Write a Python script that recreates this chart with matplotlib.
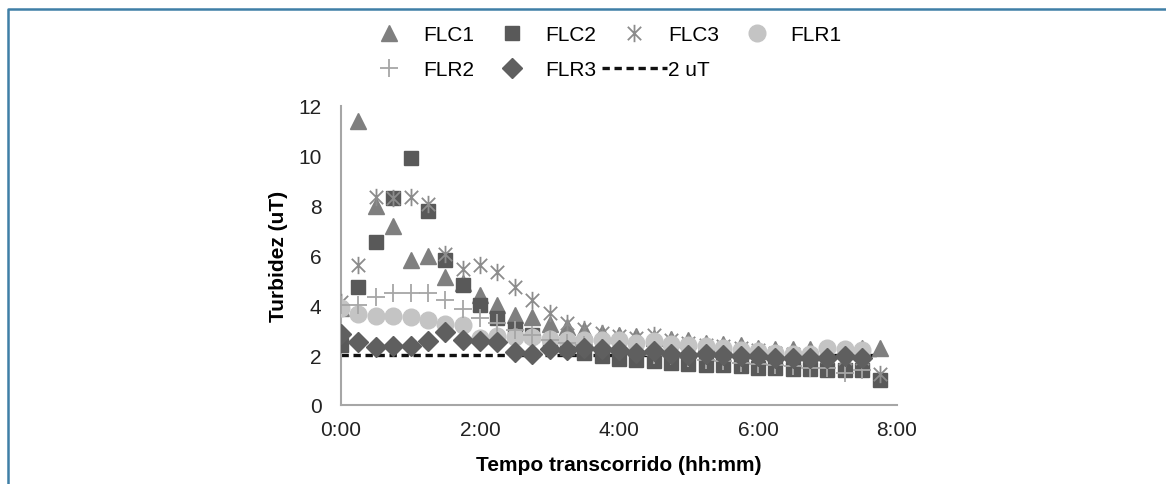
import numpy as np
import matplotlib
matplotlib.use('Agg')
import matplotlib.pyplot as plt
from matplotlib.path import Path
from matplotlib.lines import Line2D

plt.rcParams['font.family'] = ['Liberation Sans', 'DejaVu Sans']

# time in minutes, every 15 min
minutes = np.arange(0, 480, 15)
nan = np.nan

flc1 = [3.9, 11.4, 8.0, 7.2, 5.8, 6.0, 5.15, 4.9, 4.4, 4.0, 3.6, 3.55, 3.25, 3.15, 3.0, 2.9,
        2.8, 2.75, 2.7, 2.65, 2.6, 2.5, 2.45, 2.4, 2.3, 2.25, 2.25, 2.25, 2.2, 2.25, 2.3, 2.3]
flc2 = [2.4, 4.75, 6.55, 8.3, 9.9, 7.8, 5.8, 4.8, 4.0, 3.5, 3.05, 2.8, 2.5, 2.3, 2.1, 1.95,
        1.85, 1.8, 1.75, 1.7, 1.65, 1.6, 1.6, 1.55, 1.5, 1.5, 1.45, 1.45, 1.4, 1.4, 1.4, 1.0]
flc3 = [4.15, 5.6, 8.35, 8.3, 8.35, 8.05, 6.05, 5.45, 5.6, 5.35, 4.75, 4.2, 3.7, 3.3, 3.05, 2.9,
        2.75, 2.7, 2.8, 2.6, 2.5, 2.4, 2.35, 2.3, 2.2, 2.1, 2.05, 2.0, 1.95, 1.9, 1.9, 1.25]
flr1 = [3.9, 3.65, 3.57, 3.57, 3.55, 3.4, 3.27, 3.2, 2.7, 2.75, 2.72, 2.72, 2.65, 2.6, 2.6, 2.6,
        2.6, 2.5, 2.55, 2.45, 2.4, 2.35, 2.3, 2.2, 2.15, 2.1, 2.05, 2.05, 2.3, 2.25, 2.2, nan]
flr2 = [4.0, 4.0, 4.35, 4.5, 4.5, 4.5, 4.2, 3.85, 3.5, 3.3, 3.0, 2.8, 2.6, 2.5, 2.4, 2.3,
        2.2, 2.1, 2.0, 1.95, 1.9, 1.8, 1.75, 1.7, 1.65, 1.6, 1.55, 1.5, 1.5, 1.3, 1.4, nan]
flr3 = [2.85, 2.53, 2.33, 2.35, 2.37, 2.57, 2.93, 2.6, 2.55, 2.53, 2.13, 2.05, 2.25, 2.2, 2.3, 2.25,
        2.2, 2.1, 2.15, 2.05, 2.0, 2.05, 2.0, 1.95, 1.95, 1.9, 1.9, 1.9, 1.9, 1.95, 1.9, nan]
limite = [2.0] * len(minutes)

xticks = [0, 120, 240, 360, 480]
xtick_labels = ['0:00', '2:00', '4:00', '6:00', '8:00']

# asterisk marker: X with a vertical bar
star = Path([(-1, -1), (1, 1), (-1, 1), (1, -1), (0, -1.3), (0, 1.3)],
            [Path.MOVETO, Path.LINETO, Path.MOVETO, Path.LINETO, Path.MOVETO, Path.LINETO])

fig = plt.figure(figsize=(11.66, 4.85), dpi=100)
ax = fig.add_axes([341 / 1166, 1 - 406 / 485, 556 / 1166, 299 / 485])

h7, = ax.plot(minutes, limite, color='#111111', lw=2.4, ls=(0, (2.2, 1.4)), zorder=1, label='2 uT')
h1, = ax.plot(minutes, flc1, ls='none', marker='^', ms=11, color='#7f7f7f', mec='#7f7f7f', label='FLC1', zorder=2)
h2, = ax.plot(minutes, flc2, ls='none', marker='s', ms=10, color='#595959', mec='#595959', label='FLC2', zorder=3)
h3, = ax.plot(minutes, flc3, ls='none', marker=star, ms=12.5, mfc='none', mec='#8c8c8c', mew=1.3, label='FLC3', zorder=4)
h4, = ax.plot(minutes, flr1, ls='none', marker='o', ms=12, color='#c4c4c4', mec='#c4c4c4', label='FLR1', zorder=5)
h5, = ax.plot(minutes, flr2, ls='none', marker='+', ms=13, mec='#a6a6a6', mew=1.3, label='FLR2', zorder=6)
h6, = ax.plot(minutes, flr3, ls='none', marker='D', ms=10, color='#5f5f5f', mec='#5f5f5f', label='FLR3', zorder=7)

ax.set_xlim(0, 480)
ax.set_ylim(0, 12)
ax.set_xticks(xticks)
ax.set_xticklabels(xtick_labels)
ax.set_yticks(range(0, 13, 2))
ax.tick_params(axis='y', length=0, labelsize=15, pad=14, colors='#222222')
ax.tick_params(axis='x', length=0, labelsize=15, pad=11, colors='#222222')
for s in ['top', 'right']:
    ax.spines[s].set_visible(False)
for s in ['left', 'bottom']:
    ax.spines[s].set_color('#a6a6a6')
    ax.spines[s].set_linewidth(1.5)
ax.set_xlabel('Tempo transcorrido (hh:mm)', fontsize=15, fontweight='bold', va='center')
ax.set_ylabel('Turbidez (uT)', fontsize=15, fontweight='bold', va='center')
ax.xaxis.set_label_coords(0.5, (406 - 466) / 299)
ax.yaxis.set_label_coords((279 - 341) / 556, 0.5)

# one legend, 4 columns; order is column-major
leg_handles = [h1, h5, h2, h6, h3, h7, h4]
leg_labels = ['FLC1', 'FLR2', 'FLC2', 'FLR3', 'FLC3', '2 uT', 'FLR1']
fig.legend(leg_handles, leg_labels, ncol=4, loc='center left',
           bbox_to_anchor=(357 / 1166, 1 - 53 / 485), frameon=False, fontsize=15,
           handlelength=3.1, handletextpad=0.08, columnspacing=0.25, labelspacing=0.75,
           borderpad=0, borderaxespad=0)

# outer frame (left and top edges)
fig.add_artist(Line2D([8 / 1166, 8 / 1166, 1], [0, 1 - 9.5 / 485, 1 - 9.5 / 485],
                      transform=fig.transFigure, color='#3f7fa6', lw=1.8))

fig.savefig('out.png', dpi=100)
